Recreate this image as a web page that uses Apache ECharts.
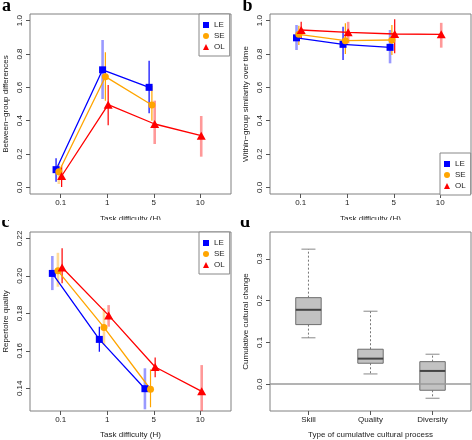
<!DOCTYPE html>
<html><head><meta charset="utf-8">
<script src="https://cdn.jsdelivr.net/npm/echarts@6/dist/echarts.min.js"></script>
<style>html,body{margin:0;padding:0;background:#fff}#c{width:472px;height:440px}</style>
</head><body><div id="c"></div>
<script>
// ---------- DATA ----------
const difficultyLabels = ['0.1', '1', '5', '10'];
const groupNames = ['LE', 'SE', 'OL'];

// Panel a: Between-group differences (x = difficulty index, slightly dodged)
const aLE_x = [-0.10, 0.90, 1.90], aLE_y = [0.106, 0.705, 0.600], aLE_lo = [0.034, 0.530, 0.444], aLE_hi = [0.174, 0.884, 0.760];
const aSE_x = [-0.04, 0.96, 1.96], aSE_y = [0.094, 0.664, 0.494], aSE_lo = [0.020, 0.520, 0.400], aSE_hi = [0.140, 0.810, 0.610];
const aOL_x = [0.02, 1.02, 2.02, 3.02], aOL_y = [0.068, 0.496, 0.380, 0.310], aOL_lo = [0.002, 0.372, 0.260, 0.184], aOL_hi = [0.130, 0.614, 0.520, 0.428];

// Panel b: Within-group similarity over time
const bLE_x = [-0.09, 0.91, 1.92], bLE_y = [0.897, 0.858, 0.840], bLE_lo = [0.824, 0.764, 0.744], bLE_hi = [0.974, 0.963, 0.944];
const bSE_x = [-0.04, 0.96, 1.96], bSE_y = [0.918, 0.880, 0.884], bSE_lo = [0.854, 0.800, 0.794], bSE_hi = [0.970, 0.984, 0.974];
const bOL_x = [0.01, 1.02, 2.02, 3.02], bOL_y = [0.944, 0.930, 0.920, 0.918], bOL_lo = [0.894, 0.864, 0.804, 0.838], bOL_hi = [0.993, 0.993, 1.008, 0.987];

// Panel c: Repertoire quality
const cLE_x = [-0.18, 0.83, 1.81], cLE_y = [0.2013, 0.1661, 0.1398], cLE_lo = [0.1924, 0.1595, 0.1288], cLE_hi = [0.2106, 0.1729, 0.1507];
const cSE_x = [-0.06, 0.93, 1.93], cSE_y = [0.2027, 0.1725, 0.1395], cSE_lo = [0.1942, 0.1631, 0.1299], cSE_hi = [0.2123, 0.1827, 0.1501];
const cOL_x = [0.03, 1.03, 2.03, 3.03], cOL_y = [0.2045, 0.1789, 0.1514, 0.1384], cOL_lo = [0.1960, 0.1729, 0.1459, 0.1250], cOL_hi = [0.2147, 0.1844, 0.1565, 0.1524];

// Panel d: Cumulative cultural change (min, Q1, median, Q3, max)
const processNames = ['Skill', 'Quality', 'Diversity'];
const skillBox = [0.111, 0.1426, 0.178, 0.207, 0.323];
const qualityBox = [0.0246, 0.0502, 0.0612, 0.0837, 0.1746];
const diversityBox = [-0.0335, -0.0144, 0.0318, 0.054, 0.0718];

// ---------- STYLE ----------
const FONT = '"Liberation Sans", Arial, sans-serif';
const COLORS = { LE: '#0000ff', SE: '#ffa500', OL: '#ff0000' };
const SYMBOLS = { LE: 'rect', SE: 'circle', OL: 'triangle' };
const SYMSIZE = { LE: 7, SE: 7, OL: [9, 8] };
// which error bars are drawn faint/wide in the original
const FAINT = {
  a: { LE: [0, 1, 0], SE: [1, 0, 0], OL: [0, 0, 1, 1] },
  b: { LE: [1, 0, 1], SE: [0, 0, 0], OL: [0, 1, 0, 1] },
  c: { LE: [1, 0, 1], SE: [1, 1, 0], OL: [0, 1, 0, 1] }
};

const panels = {
  a: { LE: [aLE_x, aLE_y, aLE_lo, aLE_hi], SE: [aSE_x, aSE_y, aSE_lo, aSE_hi], OL: [aOL_x, aOL_y, aOL_lo, aOL_hi] },
  b: { LE: [bLE_x, bLE_y, bLE_lo, bLE_hi], SE: [bSE_x, bSE_y, bSE_lo, bSE_hi], OL: [bOL_x, bOL_y, bOL_lo, bOL_hi] },
  c: { LE: [cLE_x, cLE_y, cLE_lo, cLE_hi], SE: [cSE_x, cSE_y, cSE_lo, cSE_hi], OL: [cOL_x, cOL_y, cOL_lo, cOL_hi] }
};

const grids = [
  { left: 30, top: 14, width: 201, height: 180 },
  { left: 270, top: 14, width: 201, height: 180 },
  { left: 30, top: 232, width: 201, height: 179 },
  { left: 270, top: 232, width: 201, height: 179 }
].map(g => Object.assign(g, { show: true, borderColor: '#808080', borderWidth: 1, backgroundColor: 'transparent', containLabel: false }));

const labelStyle = { fontFamily: FONT, fontSize: 8, color: '#222' };
const tickStyle = { show: true, length: 4, lineStyle: { color: '#555', width: 1 } };

function xAxisDiff(gi, gap) {
  return {
    gridIndex: gi, type: 'value', min: -0.66, max: 3.66,
    axisLine: { show: false, onZero: false }, splitLine: { show: false },
    axisTick: Object.assign({ customValues: [0, 1, 2, 3] }, tickStyle),
    axisLabel: Object.assign({ customValues: [0, 1, 2, 3], margin: 5, formatter: v => difficultyLabels[Math.round(v)] }, labelStyle),
    name: 'Task difficulty (H)', nameLocation: 'middle', nameGap: gap,
    nameTextStyle: { fontFamily: FONT, fontSize: 8, color: '#222' }
  };
}
function yAxis(gi, min, max, ticks, dec, name) {
  return {
    gridIndex: gi, type: 'value', min: min, max: max,
    axisLine: { show: false, onZero: false }, splitLine: { show: false },
    axisTick: Object.assign({ customValues: ticks }, tickStyle),
    axisLabel: Object.assign({ customValues: ticks, rotate: 90, margin: 6, formatter: v => v.toFixed(dec) }, labelStyle),
    name: name, nameLocation: 'middle', nameGap: 20,
    nameTextStyle: { fontFamily: FONT, fontSize: 8, color: '#222' }
  };
}

const xAxes = [xAxisDiff(0, 21), xAxisDiff(1, 21), xAxisDiff(2, 20), {
  gridIndex: 3, type: 'value', min: 0.38, max: 3.62,
  axisLine: { show: false, onZero: false }, splitLine: { show: false },
  axisTick: Object.assign({ customValues: [1, 2, 3] }, tickStyle),
  axisLabel: Object.assign({ customValues: [1, 2, 3], margin: 5, formatter: v => processNames[Math.round(v) - 1] }, labelStyle),
  name: 'Type of cumulative cultural process', nameLocation: 'middle', nameGap: 20,
  nameTextStyle: { fontFamily: FONT, fontSize: 8, color: '#222' }
}];
const yAxes = [
  yAxis(0, -0.04, 1.04, [0, 0.2, 0.4, 0.6, 0.8, 1.0], 1, 'Between\u2212group differences'),
  yAxis(1, -0.04, 1.04, [0, 0.2, 0.4, 0.6, 0.8, 1.0], 1, 'Within\u2212group similarity over time'),
  yAxis(2, 0.1279, 0.2234, [0.14, 0.16, 0.18, 0.20, 0.22], 2, 'Repertoire quality'),
  yAxis(3, -0.064, 0.364, [0.0, 0.1, 0.2, 0.3], 1, 'Cumulative cultural change')
];

const series = [];
['a', 'b', 'c'].forEach((pk, gi) => {
  groupNames.forEach(g => {
    const [xs, ys, lo, hi] = panels[pk][g];
    const faint = FAINT[pk][g];
    series.push({
      type: 'custom', name: g + '-err-' + pk, xAxisIndex: gi, yAxisIndex: gi, z: 2, clip: true, silent: true,
      data: xs.map((x, i) => [x, lo[i], hi[i], faint[i]]),
      renderItem: (params, api) => {
        const p1 = api.coord([api.value(0), api.value(1)]);
        const p2 = api.coord([api.value(0), api.value(2)]);
        const f = api.value(3);
        return { type: 'line', shape: { x1: p1[0], y1: p1[1], x2: p2[0], y2: p2[1] },
          style: { stroke: COLORS[g], lineWidth: f ? 2.6 : 1.2, opacity: f ? 0.4 : 1 } };
      }
    });
    series.push({
      type: 'line', name: g, xAxisIndex: gi, yAxisIndex: gi, z: 3, silent: true, animation: false,
      data: xs.map((x, i) => [x, ys[i]]),
      symbol: SYMBOLS[g], symbolSize: SYMSIZE[g], showAllSymbol: true,
      itemStyle: { color: COLORS[g] }, lineStyle: { color: COLORS[g], width: 1.3 }
    });
  });
});

const boxes = [skillBox, qualityBox, diversityBox];
series.push({
  type: 'custom', name: 'box', xAxisIndex: 3, yAxisIndex: 3, z: 3, silent: true,
  data: boxes.map((b, i) => [i + 1].concat(b)),
  renderItem: (params, api) => {
    const x = api.value(0);
    const w = api.size([0.41, 0])[0];
    const cw = w * 0.55;
    const pMin = api.coord([x, api.value(1)]), pQ1 = api.coord([x, api.value(2)]),
      pMed = api.coord([x, api.value(3)]), pQ3 = api.coord([x, api.value(4)]), pMax = api.coord([x, api.value(5)]);
    const cx = pMed[0];
    return { type: 'group', children: [
      { type: 'line', shape: { x1: cx, y1: pQ3[1], x2: cx, y2: pMax[1] }, style: { stroke: '#777', lineWidth: 1, lineDash: [2, 2] } },
      { type: 'line', shape: { x1: cx, y1: pQ1[1], x2: cx, y2: pMin[1] }, style: { stroke: '#777', lineWidth: 1, lineDash: [2, 2] } },
      { type: 'line', shape: { x1: cx - cw / 2, y1: pMax[1], x2: cx + cw / 2, y2: pMax[1] }, style: { stroke: '#888', lineWidth: 1 } },
      { type: 'line', shape: { x1: cx - cw / 2, y1: pMin[1], x2: cx + cw / 2, y2: pMin[1] }, style: { stroke: '#888', lineWidth: 1 } },
      { type: 'rect', shape: { x: cx - w / 2, y: pQ3[1], width: w, height: pQ1[1] - pQ3[1] }, style: { fill: '#c2c2c2', stroke: '#6e6e6e', lineWidth: 1 } },
      { type: 'line', shape: { x1: cx - w / 2, y1: pMed[1], x2: cx + w / 2, y2: pMed[1] }, style: { stroke: '#444', lineWidth: 2 } }
    ] };
  },
  markLine: { silent: true, symbol: 'none', label: { show: false }, animation: false,
    lineStyle: { color: '#9a9a9a', width: 1.5, type: 'solid' }, data: [{ yAxis: 0 }] }
});

function legendAt(left, top) {
  return {
    orient: 'vertical', left: left, top: top, padding: [6, 5, 4, 4], itemGap: 1,
    itemWidth: 6, itemHeight: 6, borderColor: '#888', borderWidth: 1, borderRadius: 0,
    backgroundColor: '#fff', selectedMode: false,
    textStyle: { fontFamily: FONT, fontSize: 8, color: '#222', lineHeight: 10 },
    data: [{ name: 'LE', icon: 'rect' }, { name: 'SE', icon: 'circle' }, { name: 'OL', icon: 'triangle' }]
  };
}

const letterFont = 'bold 18px "Liberation Serif", "Times New Roman", serif';
const option = {
  animation: false,
  backgroundColor: '#fff',
  grid: grids, xAxis: xAxes, yAxis: yAxes, series: series,
  legend: [legendAt(199, 14), legendAt(440, 153), legendAt(199, 232)],
  graphic: [
    { type: 'text', x: 2, y: 6.4, z: 50, style: { text: 'a', font: letterFont, fill: '#000', verticalAlign: 'middle' } },
    { type: 'text', x: 242.5, y: 6.4, z: 50, style: { text: 'b', font: letterFont, fill: '#000', verticalAlign: 'middle' } },
    { type: 'text', x: 1.5, y: 222.5, z: 50, style: { text: 'c', font: letterFont, fill: '#000', verticalAlign: 'middle' } },
    { type: 'text', x: 240, y: 222, z: 50, style: { text: 'd', font: letterFont, fill: '#000', verticalAlign: 'middle' } },
    // panel clipping edges of the original figure
    { type: 'rect', z: 100, shape: { x: 60, y: 220, width: 170, height: 5 }, style: { fill: '#fff' } },
    { type: 'rect', z: 100, shape: { x: 300, y: 220, width: 170, height: 5 }, style: { fill: '#fff' } },
    { type: 'rect', z: 100, shape: { x: 0, y: 210, width: 20, height: 10 }, style: { fill: '#fff' } },
    { type: 'rect', z: 100, shape: { x: 236, y: 210, width: 20, height: 10 }, style: { fill: '#fff' } }
  ]
};
echarts.init(document.getElementById('c'), null, { renderer: 'canvas' }).setOption(option);
</script>
</body></html>
